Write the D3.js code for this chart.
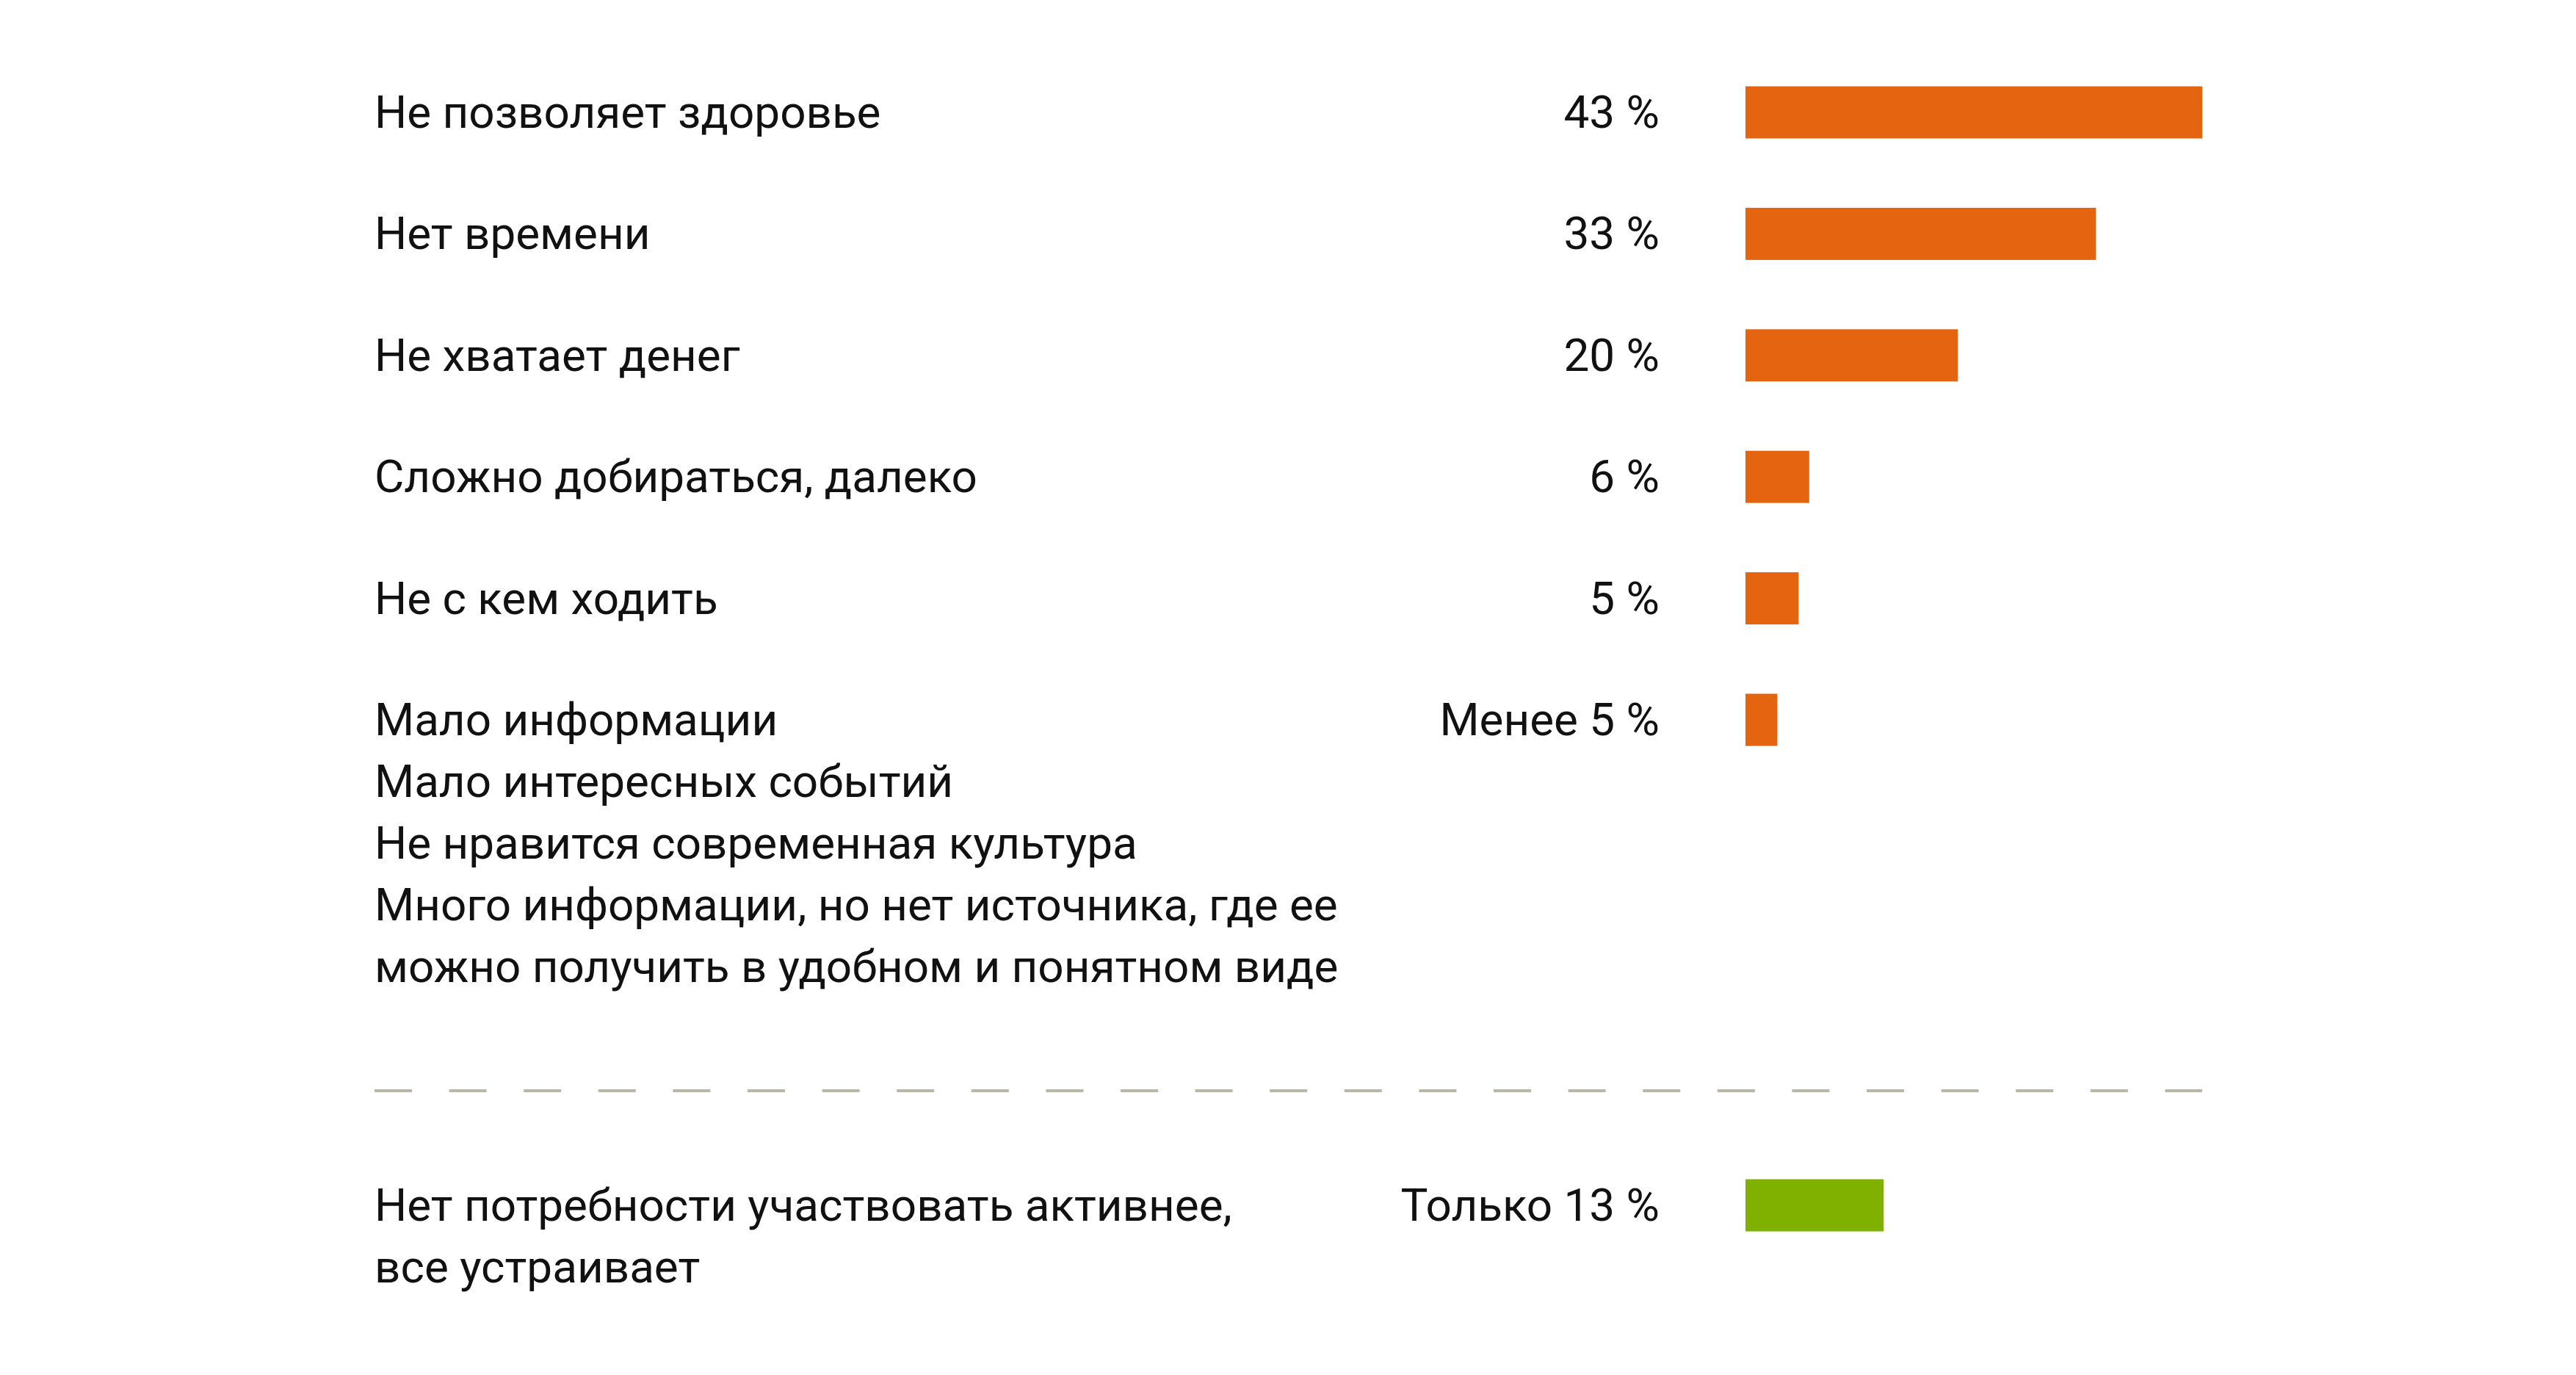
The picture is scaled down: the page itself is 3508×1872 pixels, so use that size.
<!DOCTYPE html>
<html>
<head>
<meta charset="utf-8">
<script src="https://cdn.jsdelivr.net/npm/d3@7/dist/d3.min.js"></script>
<style>
  html, body { margin: 0; padding: 0; background: #ffffff; }
  svg { display: block; }
  text { font-family: Roboto, "Open Sans", "Noto Sans", sans-serif; fill: #111111; }
</style>
</head>
<body>
<script>
// ---- data ----
const categories = [
  "Не позволяет здоровье",
  "Нет времени",
  "Не хватает денег",
  "Сложно добираться, далеко",
  "Не с кем ходить",
  "Мало информации\nМало интересных событий\nНе нравится современная культура\nМного информации, но нет источника, где ее\nможно получить в удобном и понятном виде"
];
const values = [43, 33, 20, 6, 5, 3];
const valueLabels = ["43 %", "33 %", "20 %", "6 %", "5 %", "Менее 5 %"];

const otherCategory = "Нет потребности участвовать активнее,\nвсе устраивает";
const otherValue = 13;
const otherLabel = "Только 13 %";

// ---- layout ----
const W = 3508, H = 1872;
const labelX = 510, valueRight = 2260;
const barX0 = 2377, barX1 = 2999;
const barH = 71;
const fontSize = 62;
const lineStep = 84;
const orange = "#e5640f", green = "#80b100";

const svg = d3.select("body").append("svg").attr("width", W).attr("height", H);

const x = d3.scaleLinear().domain([0, 43]).range([barX0, barX1]);
const y = d3.scalePoint().domain(categories).range([153, 980]);
const yOther = 1641;
const sepY = 1485;

const rows = categories.map((c, i) => ({ cat: c, value: values[i], label: valueLabels[i], cy: y(c), color: orange }));
rows.push({ cat: otherCategory, value: otherValue, label: otherLabel, cy: yOther, color: green });

const g = svg.append("g");

g.selectAll("rect.bar").data(rows).join("rect")
  .attr("class", "bar")
  .attr("x", x(0))
  .attr("y", d => d.cy - barH / 2)
  .attr("width", d => x(d.value) - x(0))
  .attr("height", barH)
  .attr("fill", d => d.color);

g.selectAll("text.val").data(rows).join("text")
  .attr("class", "val")
  .attr("x", valueRight)
  .attr("y", d => d.cy + 21)
  .attr("text-anchor", "end")
  .attr("font-size", fontSize)
  .text(d => d.label);

const lab = g.selectAll("text.lab").data(rows).join("text")
  .attr("class", "lab")
  .attr("x", labelX)
  .attr("y", d => d.cy + 21)
  .attr("font-size", fontSize);
lab.selectAll("tspan").data(d => d.cat.split("\n")).join("tspan")
  .attr("x", labelX)
  .attr("dy", (d, i) => i === 0 ? 0 : lineStep)
  .text(d => d);

svg.append("line")
  .attr("x1", labelX).attr("x2", barX1)
  .attr("y1", sepY).attr("y2", sepY)
  .attr("stroke", "#bab6a8")
  .attr("stroke-width", 4)
  .attr("stroke-dasharray", "51 50.6");
</script>
</body>
</html>
